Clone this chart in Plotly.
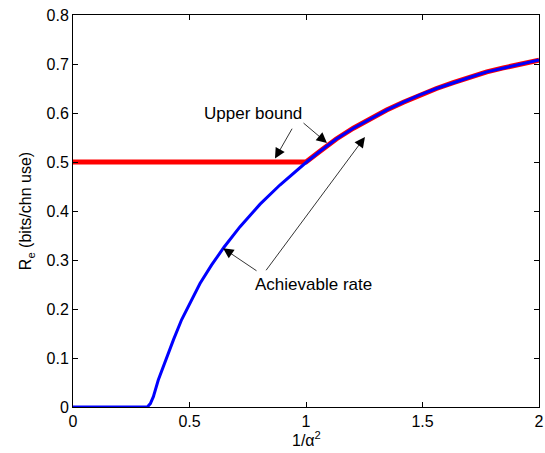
import plotly.graph_objects as go

# Achievable rate (blue)
x_rate = [0.0, 0.319, 0.332, 0.345, 0.366, 0.395, 0.431, 0.466, 0.502, 0.545, 0.595,
          0.648, 0.717, 0.803, 0.888, 0.974, 1.0, 1.060, 1.130, 1.203, 1.275, 1.346,
          1.418, 1.489, 1.560, 1.632, 1.704, 1.776, 1.847, 1.918, 2.0]
y_rate = [0.0, 0.0, 0.007, 0.021, 0.055, 0.092, 0.137, 0.178, 0.212, 0.252, 0.290,
          0.326, 0.368, 0.414, 0.453, 0.489, 0.499, 0.522, 0.547, 0.569, 0.588, 0.606,
          0.622, 0.637, 0.650, 0.662, 0.673, 0.684, 0.692, 0.700, 0.708]

# Upper bound (red): flat at 0.5, then the same curve as the rate
x_ub = [0.0, 1.0, 1.060, 1.130, 1.203, 1.275, 1.346, 1.418, 1.489, 1.560, 1.632,
        1.704, 1.776, 1.847, 1.918, 2.0]
y_ub = [0.5, 0.5, 0.522, 0.547, 0.569, 0.588, 0.606, 0.622, 0.637, 0.650, 0.662,
        0.673, 0.684, 0.692, 0.700, 0.708]

x_ticks = [0, 0.5, 1, 1.5, 2]
x_tick_labels = ["0", "0.5", "1", "1.5", "2"]
y_ticks = [0, 0.1, 0.2, 0.3, 0.4, 0.5, 0.6, 0.7, 0.8]
y_tick_labels = ["0", "0.1", "0.2", "0.3", "0.4", "0.5", "0.6", "0.7", "0.8"]

font = "Liberation Sans, Arial, Helvetica, sans-serif"

fig = go.Figure()
fig.add_trace(go.Scatter(x=x_ub, y=y_ub, mode="lines",
                         line=dict(color="#ff0000", width=5), showlegend=False))
fig.add_trace(go.Scatter(x=x_rate, y=y_rate, mode="lines",
                         line=dict(color="#0000ff", width=3), showlegend=False))

arrows = [
    # (tip x, tip y, tail x, tail y)
    (0.867, 0.507, 0.944, 0.571),
    (1.090, 0.539, 0.983, 0.582),
    (0.644, 0.324, 0.794, 0.276),
    (1.253, 0.551, 0.824, 0.276),
]
for tx, ty, sx, sy in arrows:
    fig.add_annotation(x=tx, y=ty, ax=sx, ay=sy, xref="x", yref="y",
                       axref="x", ayref="y", text="", showarrow=True,
                       arrowhead=2, arrowsize=2.6, arrowwidth=0.8,
                       arrowcolor="black")

fig.add_annotation(x=0.773, y=0.600, xref="x", yref="y", text="Upper bound",
                   showarrow=False, font=dict(family=font, size=17, color="black"))
fig.add_annotation(x=1.034, y=0.250, xref="x", yref="y", text="Achievable rate",
                   showarrow=False, font=dict(family=font, size=17, color="black"))

# x-axis title placed as a paper annotation near the bottom edge
fig.add_annotation(x=0.5, y=-0.113, xref="paper", yref="paper", xanchor="center",
                   yanchor="bottom", text="1/α<sup>2</sup>", showarrow=False,
                   font=dict(family=font, size=16, color="black"))

axis_common = dict(showgrid=False, zeroline=False, showline=True, linecolor="black",
                   linewidth=1, mirror="ticks", ticks="inside", ticklen=5,
                   tickcolor="black", automargin=False,
                   tickfont=dict(family=font, size=16, color="black"))

fig.update_xaxes(range=[0, 2], tickvals=x_ticks, ticktext=x_tick_labels, **axis_common)
fig.update_yaxes(range=[0, 0.8], tickvals=y_ticks, ticktext=y_tick_labels,
                 title=dict(text="R<sub>e</sub> (bits/chn use)",
                            font=dict(family=font, size=16, color="black"), standoff=10),
                 **axis_common)

fig.update_layout(width=545, height=453, margin=dict(l=73, r=6, t=15, b=46),
                  plot_bgcolor="white", paper_bgcolor="white",
                  font=dict(family=font, size=16, color="black"))

fig.write_html("out.html", config={"displayModeBar": False},
               post_script="document.body.style.margin='0';")
